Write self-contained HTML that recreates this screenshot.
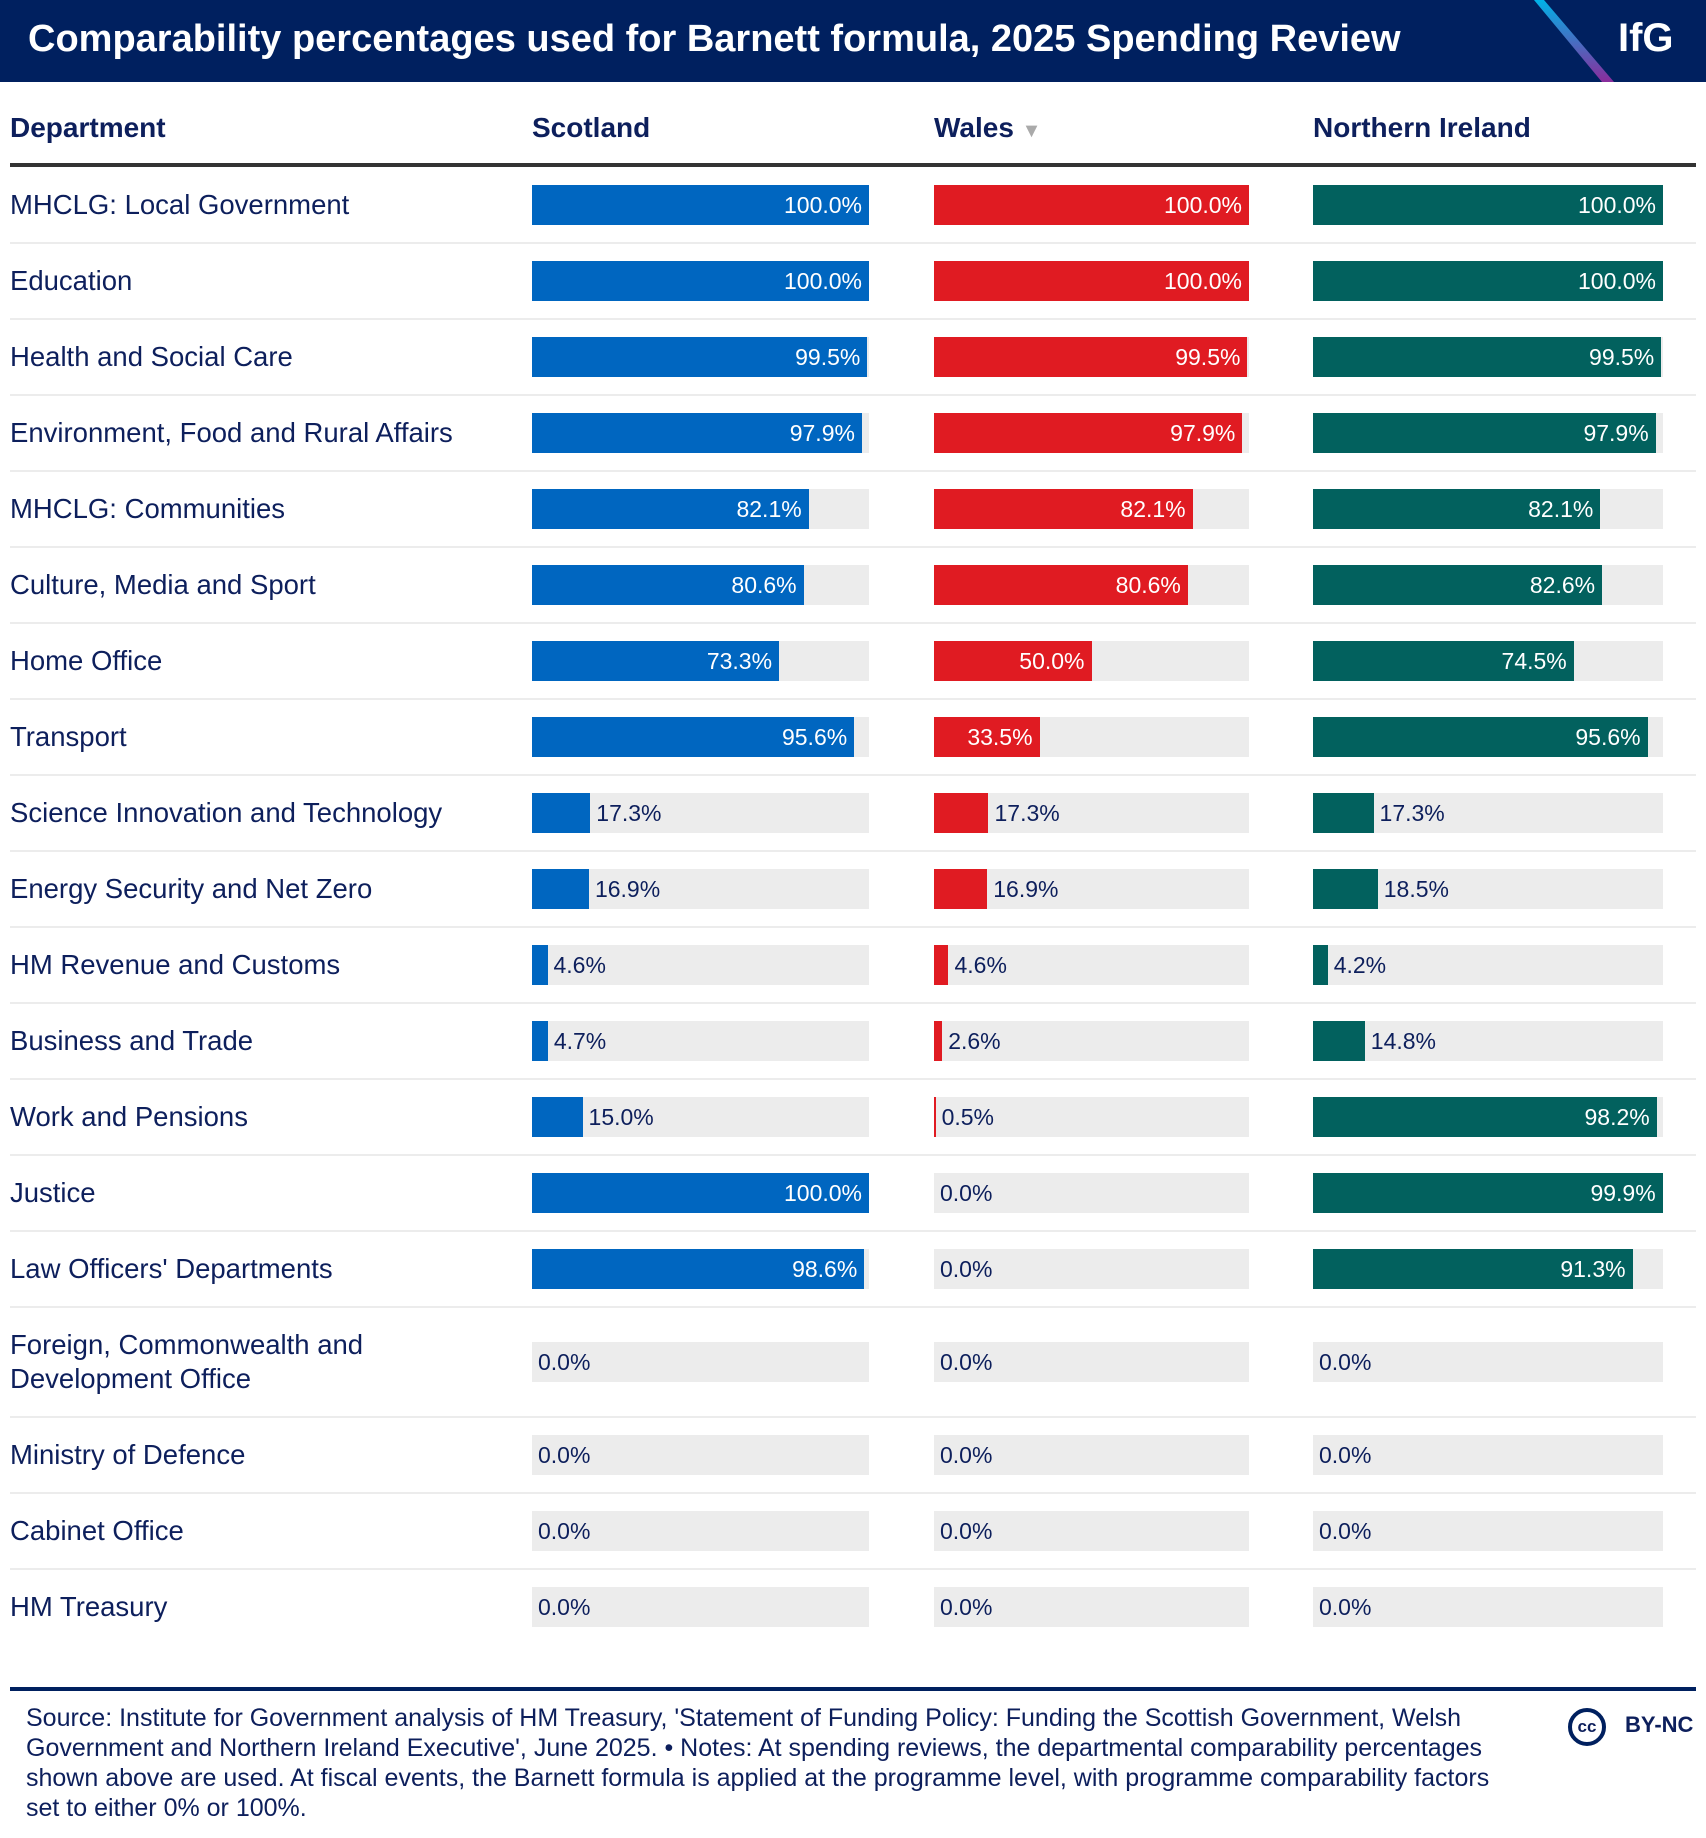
<!DOCTYPE html>
<html><head><meta charset="utf-8"><style>
body{margin:0;width:1706px;height:1838px;background:#fff;font-family:"Liberation Sans",sans-serif;color:#0d1f5c;position:relative;overflow:hidden}
#hdr{position:absolute;left:0;top:0;width:1706px;height:82px;background:#00205f}
#title{position:absolute;left:28px;top:18px;font-size:38px;font-weight:bold;color:#fff;letter-spacing:0px}
#ifg{position:absolute;left:1618px;top:16px;font-size:40px;font-weight:bold;color:#fff}
.ch{position:absolute;top:112px;font-size:28px;font-weight:bold;color:#0d1f5c}
#hline{position:absolute;left:10px;top:163px;width:1686px;height:4px;background:#333}
.lbl{position:absolute;left:10px;font-size:27.5px;line-height:34px;color:#0d1f5c}
.sep{position:absolute;left:10px;width:1686px;height:2px;background:#ececec}
.bg{position:absolute;height:40px;background:#ececec}
.bar{position:absolute;height:40px}
.val{position:absolute;font-size:23px;line-height:40px}
#fline{position:absolute;left:10px;top:1687px;width:1686px;height:4px;background:#00205f}
#foot{position:absolute;left:26px;top:1703px;width:1495px;font-size:25px;line-height:30px;color:#0d1f5c}
#cc{position:absolute;left:1568px;top:1708px;width:38px;height:38px;border:4px solid #00205f;border-radius:50%;box-sizing:border-box;font-weight:bold;font-size:17px;text-align:center;line-height:30px}
#bync{position:absolute;left:1625px;top:1712px;font-weight:bold;font-size:22px}
</style></head><body>
<div id="hdr">
<div id="title">Comparability percentages used for Barnett formula, 2025 Spending Review</div>
<svg style="position:absolute;left:1530px;top:0" width="90" height="82"><defs><linearGradient id="g" x1="0" y1="0" x2="0" y2="1"><stop offset="0" stop-color="#00b2e8"/><stop offset="1" stop-color="#8a2c9c"/></linearGradient></defs><polygon points="4,0 14,0 84,82 72,82" fill="url(#g)"/></svg>
<div id="ifg">IfG</div>
</div>
<div class="ch" style="left:10px">Department</div>
<div class="ch" style="left:532px">Scotland</div>
<div class="ch" style="left:934px">Wales <span style="color:#aaa;font-size:20px">▼</span></div>
<div class="ch" style="left:1313px">Northern Ireland</div>
<div id="hline"></div>
<div id="rows"></div>
<div id="fline"></div>
<div id="foot">Source: Institute for Government analysis of HM Treasury, 'Statement of Funding Policy: Funding the Scottish Government, Welsh Government and Northern Ireland Executive', June 2025. • Notes: At spending reviews, the departmental comparability percentages shown above are used. At fiscal events, the Barnett formula is applied at the programme level, with programme comparability factors set to either 0% or 100%.</div>
<div id="cc">cc</div>
<div id="bync">BY-NC</div>
<script>
const departments=["MHCLG: Local Government","Education","Health and Social Care","Environment, Food and Rural Affairs","MHCLG: Communities","Culture, Media and Sport","Home Office","Transport","Science Innovation and Technology","Energy Security and Net Zero","HM Revenue and Customs","Business and Trade","Work and Pensions","Justice","Law Officers' Departments","Foreign, Commonwealth and Development Office","Ministry of Defence","Cabinet Office","HM Treasury"];
const scotland=[100,100,99.5,97.9,82.1,80.6,73.3,95.6,17.3,16.9,4.6,4.7,15.0,100,98.6,0,0,0,0];
const wales=[100,100,99.5,97.9,82.1,80.6,50.0,33.5,17.3,16.9,4.6,2.6,0.5,0,0,0,0,0,0];
const northernIreland=[100,100,99.5,97.9,82.1,82.6,74.5,95.6,17.3,18.5,4.2,14.8,98.2,99.9,91.3,0,0,0,0];
const series=[{v:scotland,x:532,w:337,c:"#0066c0",n:"scotland"},{v:wales,x:934,w:315,c:"#e01b22",n:"wales"},{v:northernIreland,x:1313,w:350,c:"#02615e",n:"northern-ireland"}];
const R=document.getElementById('rows');
let y=167;
departments.forEach((d,i)=>{
  const h=(d.length>40)?110:76;
  const cy=y+h/2;
  const l=document.createElement('div');l.className='lbl';
  
  
  l.style.top=(cy-(h>76?34:17))+'px';
  l.innerHTML=d==="Foreign, Commonwealth and Development Office"?"Foreign, Commonwealth and<br>Development Office":d;
  R.appendChild(l);
  series.forEach(s=>{
    const v=s.v[i];
    const bg=document.createElement('div');bg.className='bg';
    
    
    bg.style.left=s.x+'px';bg.style.top=(cy-20)+'px';bg.style.width=s.w+'px';R.appendChild(bg);
    const bw=s.w*v/100;
    const b=document.createElement('div');b.className='bar';
    
    
    b.style.left=s.x+'px';b.style.top=(cy-20)+'px';b.style.width=bw+'px';b.style.background=s.c;R.appendChild(b);
    const t=document.createElement('div');t.className='val';
    
    
    t.textContent=v.toFixed(1)+'%';t.style.top=(cy-20)+'px';
    if(v>=30){t.style.color='#fff';t.style.right=(1706-(s.x+bw)+7)+'px';}
    else{t.style.color='#0d1f5c';t.style.left=(s.x+bw+6)+'px';}
    R.appendChild(t);
  });
  y+=h;
  if(i<departments.length-1){const sp=document.createElement('div');sp.className='sep';
  
  
  sp.style.top=(y-1)+'px';R.appendChild(sp);}
});
</script>
</body></html>
